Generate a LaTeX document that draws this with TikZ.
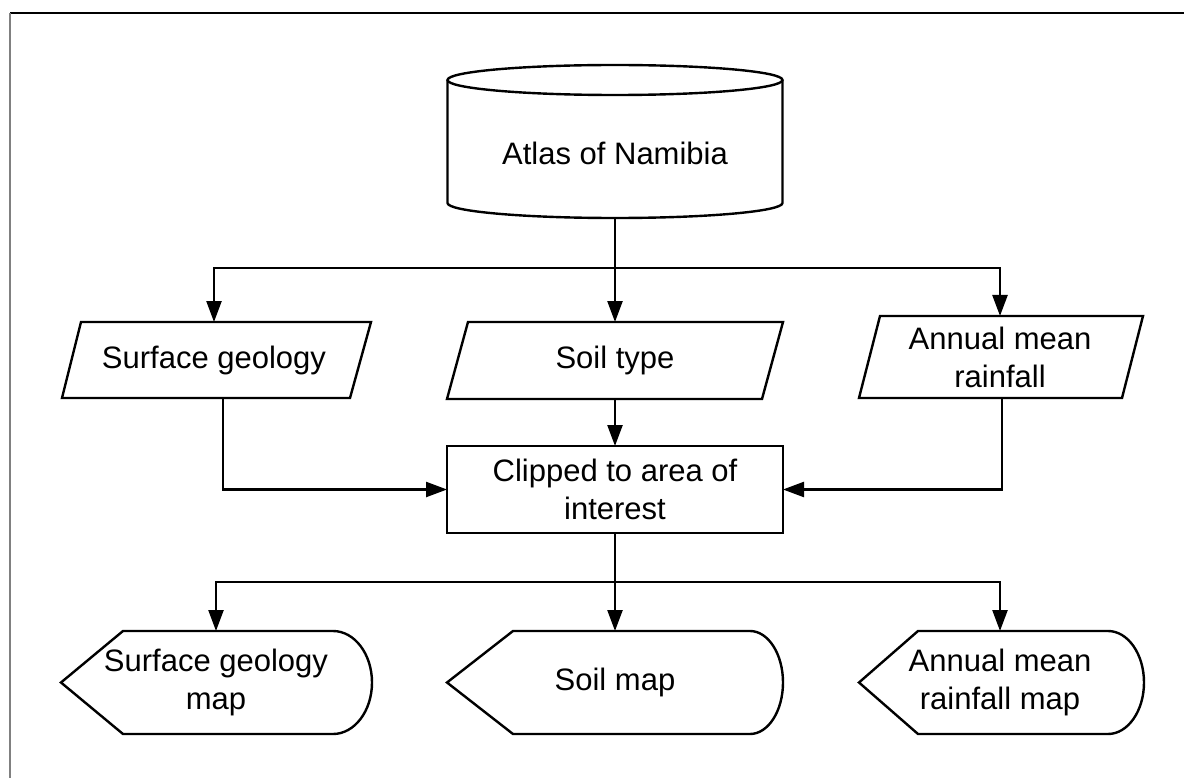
\documentclass[tikz,border=0pt]{standalone}
\usepackage{fontspec}
\setmainfont{Liberation Sans}
\usetikzlibrary{arrows.meta,calc}
\begin{document}
\begin{tikzpicture}[x=1pt,y=-1pt,
  shapeline/.style={line width=2.4pt, line join=miter},
  conn/.style={line width=2.4pt},
  arr/.style={conn,-{Triangle[length=21pt,width=15pt]}},
  lbl/.style={font=\fontsize{31}{38}\selectfont, align=center, inner sep=0pt, outer sep=0pt}]
\useasboundingbox (0,0) rectangle (1184,778);
% frame
\draw[line width=1.5pt] (10,13) -- (1184,13);
\draw[gray, line width=1.2pt] (10,13) -- (10,778);

% shapes
\draw[shapeline] (615,80) ellipse[x radius=167.5pt, y radius=15pt];
\draw[shapeline] (447.5,80) -- (447.5,203) arc[start angle=180, end angle=360, x radius=167.5pt, y radius=15pt] -- (782.5,80);
\draw[shapeline] (81,322) -- (371,322) -- (350,398) -- (62,398) -- cycle;
\draw[shapeline] (468,322) -- (783,322) -- (762,399) -- (447,399) -- cycle;
\draw[shapeline] (880,316) -- (1143,316) -- (1122,398) -- (859,398) -- cycle;
\draw[shapeline] (61,682.5) -- (123,631) -- (333,631) arc[start angle=90, end angle=-90, x radius=39pt, y radius=51.5pt] -- (123,734) -- cycle;
\draw[shapeline] (447,682.5) -- (513,631) -- (750,631) arc[start angle=90, end angle=-90, x radius=33pt, y radius=51.5pt] -- (513,734) -- cycle;
\draw[shapeline] (859,682.5) -- (918,631) -- (1108,631) arc[start angle=90, end angle=-90, x radius=36pt, y radius=51.5pt] -- (918,734) -- cycle;

% nodes
\node[lbl, minimum width=335pt, minimum height=130pt] (atlas) at (615,153) {Atlas of Namibia};
\node[lbl, minimum width=290pt, minimum height=76pt] (geo) at (214,360) {Surface geology};
\node[lbl, minimum width=300pt, minimum height=77pt] (soil) at (615,360.5) {Soil type};
\node[lbl, minimum width=250pt, minimum height=82pt] (rain) at (1000,357) {Annual mean\\rainfall};
\node[lbl, draw, line width=2.4pt, minimum width=336pt, minimum height=87pt] (clip) at (615,489.5) {Clipped to area of\\interest};
\node[lbl, minimum width=300pt, minimum height=103pt] (geomap) at (216,682.5) {Surface geology\\map};
\node[lbl, minimum width=300pt, minimum height=103pt] (soilmap) at (615,682.5) {Soil map};
\node[lbl, minimum width=270pt, minimum height=103pt] (rainmap) at (1000,682.5) {Annual mean\\rainfall map};

% connectors
\coordinate (j1) at (615,268);
\coordinate (j2) at (615,582);
\draw[conn] (atlas.south) -- (j1);
\draw[arr] (j1) -- (soil.north);
\draw[arr] (j1) -| (geo.north);
\draw[arr] (j1) -| (rain.north);
\draw[arr] ($(geo.south)+(9,0)$) |- (clip.west);
\draw[arr] (soil.south) -- (clip.north);
\draw[arr] ($(rain.south)+(2,0)$) |- (clip.east);
\draw[conn] (clip.south) -- (j2);
\draw[arr] (j2) -- (soilmap.north);
\draw[arr] (j2) -| (geomap.north);
\draw[arr] (j2) -| (rainmap.north);
\end{tikzpicture}
\end{document}
